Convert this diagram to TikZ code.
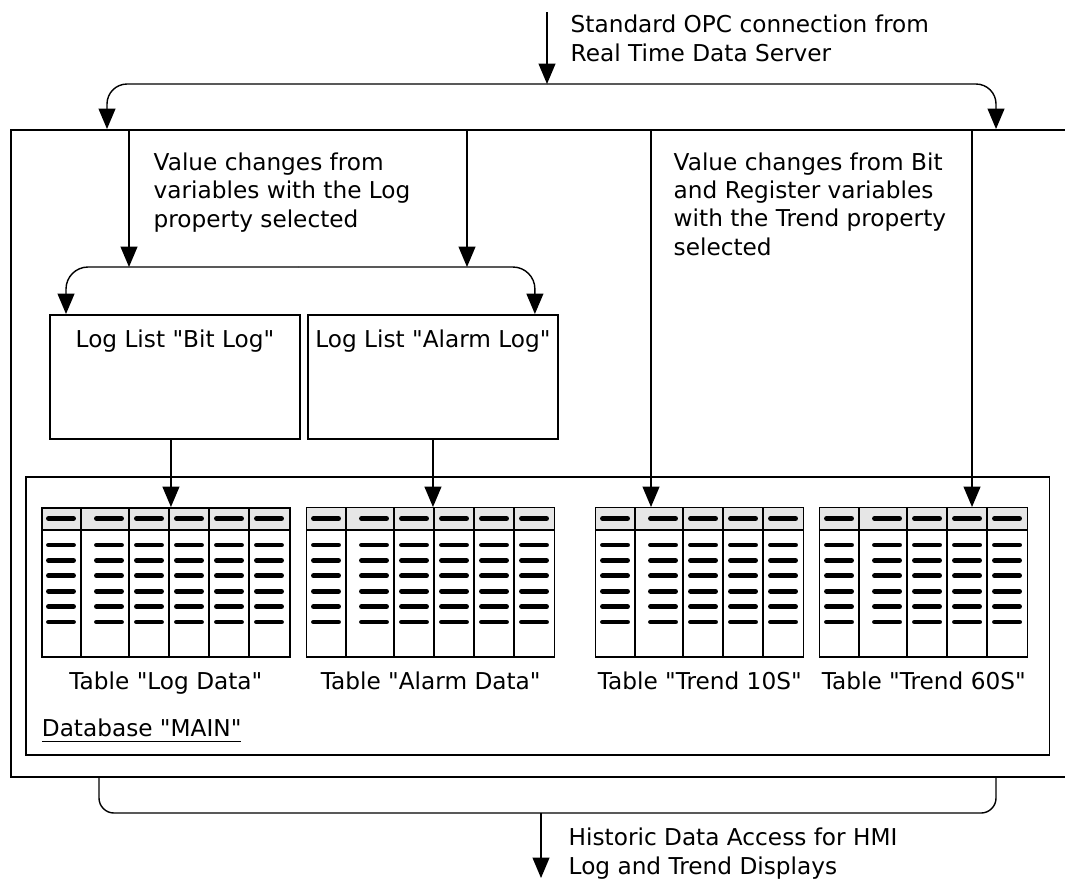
\documentclass[tikz,border=0pt]{standalone}
\usepackage{fontspec}
\setmainfont{DejaVu Sans}[Ligatures=TeXOff]
\usetikzlibrary{arrows.meta,positioning}
\pgfdeclarelayer{background}
\pgfsetlayers{background,main}
\definecolor{headgray}{HTML}{E6E6E6}
\tikzset{
  txt/.style={inner sep=0,font=\fontsize{6.6pt}{8.05pt}\selectfont},
  frame/.style={draw,anchor=north west,inner sep=0},
  tip/.style={-{Triangle[width=4.8pt,length=5.8pt]}},
  bar/.style={line width=1.4pt,line cap=round},
}
\newcommand{\LogList}[3]% pos, name, title
{\node[frame,minimum width=2.5cm,minimum height=1.24cm] (#2) at (#1) {};
  \node[txt,anchor=base] (#2-t) at ([yshift=-0.33cm]#2.north) {#3};
}
\newcommand{\DataTable}[4]% left, name, columns, title
{\pgfmathsetmacro{\tw}{8+40*#3}
  \node[frame,minimum width=\tw*0.01cm,minimum height=1.49cm] (#2) at (#1,507) {};
  \begin{pgfonlayer}{background}
    \fill[headgray] (#2.north west) rectangle ([yshift=-0.23cm]#2.north east);
  \end{pgfonlayer}
  \draw ([yshift=-0.23cm]#2.north west) -- ([yshift=-0.23cm]#2.north east);
  \foreach \col in {1,...,#3}{
    \pgfmathsetmacro{\colr}{#1+40*\col+(\col>1)*8}
    \ifnum\col<#3 \draw (\colr,507) -- (\colr,656); \fi
    \draw[bar] (\colr-32.5,518.5) -- (\colr-7.5,518.5);
    \foreach \row in {0,...,5}
      \draw[bar] (\colr-32.5,545+15.4*\row) -- (\colr-7.5,545+15.4*\row);
  }
  \node[txt,anchor=base] (#2-t) at ([yshift=-0.32cm]#2.south) {#4};
}
\newcommand{\Arrow}[3]% from, to, options
{ \begin{pgfonlayer}{background}
    \draw[tip,#3] (#1) -- (#2);
  \end{pgfonlayer}}

\begin{document}
\begin{tikzpicture}[x=0.01cm,y=-0.01cm,line width=0.5pt]
  \useasboundingbox (0,0) rectangle (1065,884);
  % historian, database, log lists and tables
  \node[frame,minimum width=10.7cm,minimum height=6.47cm] (hist) at (10,129) {};
  \node[frame,minimum width=10.23cm,minimum height=2.78cm] (maindb) at (25,476) {};
  \node[txt,anchor=base west] (maindb-t) at (41,736) {\underline{Database "MAIN"}};
  \LogList{49,314}{bitlog}{Log List "Bit Log"}
  \LogList{307,314}{alarmlog}{Log List "Alarm Log"}
  \DataTable{41}{logdata}{6}{Table "Log Data"}
  \DataTable{306}{alarmdata}{6}{Table "Alarm Data"}
  \DataTable{595}{trendten}{5}{Table "Trend 10S"}
  \DataTable{819}{trendsixty}{5}{Table "Trend 60S"}
  % notes (base = last line)
  \node[txt,anchor=base west,align=left] (opc-t) at (570,61)
    {Standard OPC connection from\\Real Time Data Server};
  \node[txt,anchor=base west,align=left] (log-t) at (153,227)
    {Value changes from\\variables with the Log\\property selected};
  \node[txt,anchor=base west,align=left] (trend-t) at (673,255)
    {Value changes from Bit\\and Register variables\\with the Trend property\\selected};
  \node[txt,anchor=base west,align=left] (hda-t) at (568,874)
    {Historic Data Access for HMI\\Log and Trend Displays};
  % ends of the connectors
  \coordinate (opc) at (547,12);
  \coordinate (split) at (547,84);
  \coordinate (inL) at (107,129);
  \coordinate (inR) at (996,129);
  \coordinate (logA) at (129,129);
  \coordinate (logB) at (467,129);
  \coordinate (logsplit) at (298,267);
  \coordinate (trendA) at (651,129);
  \coordinate (trendB) at (972,129);
  \coordinate (outL) at (99,776);
  \coordinate (outR) at (996,776);
  \coordinate (hda) at (541,813);
  \coordinate (hdaout) at (541,878);
  \Arrow{opc}{split}{}
  \draw[tip,rounded corners=0.2cm] (split) -| (inL);
  \draw[tip,rounded corners=0.2cm] (split) -| (inR);
  \Arrow{logA}{logA |- logsplit}{}
  \Arrow{logB}{logB |- logsplit}{}
  \draw[tip,rounded corners=0.22cm] (logsplit) -| ([xshift=0.17cm]bitlog.north west);
  \draw[tip,rounded corners=0.22cm] (logsplit) -| ([xshift=-0.24cm]alarmlog.north east);
  \Arrow{[xshift=-0.04cm]bitlog.south}{[xshift=-0.04cm]bitlog.south |- logdata.north}{}
  \Arrow{alarmlog.south}{alarmlog.south |- alarmdata.north}{}
  \Arrow{trendA}{trendA |- trendten.north}{}
  \Arrow{trendB}{trendB |- trendsixty.north}{}
  \draw[rounded corners=0.15cm] (outL) |- (hda) -| (outR);
  \Arrow{hda}{hdaout}{}
\end{tikzpicture}
\end{document}
